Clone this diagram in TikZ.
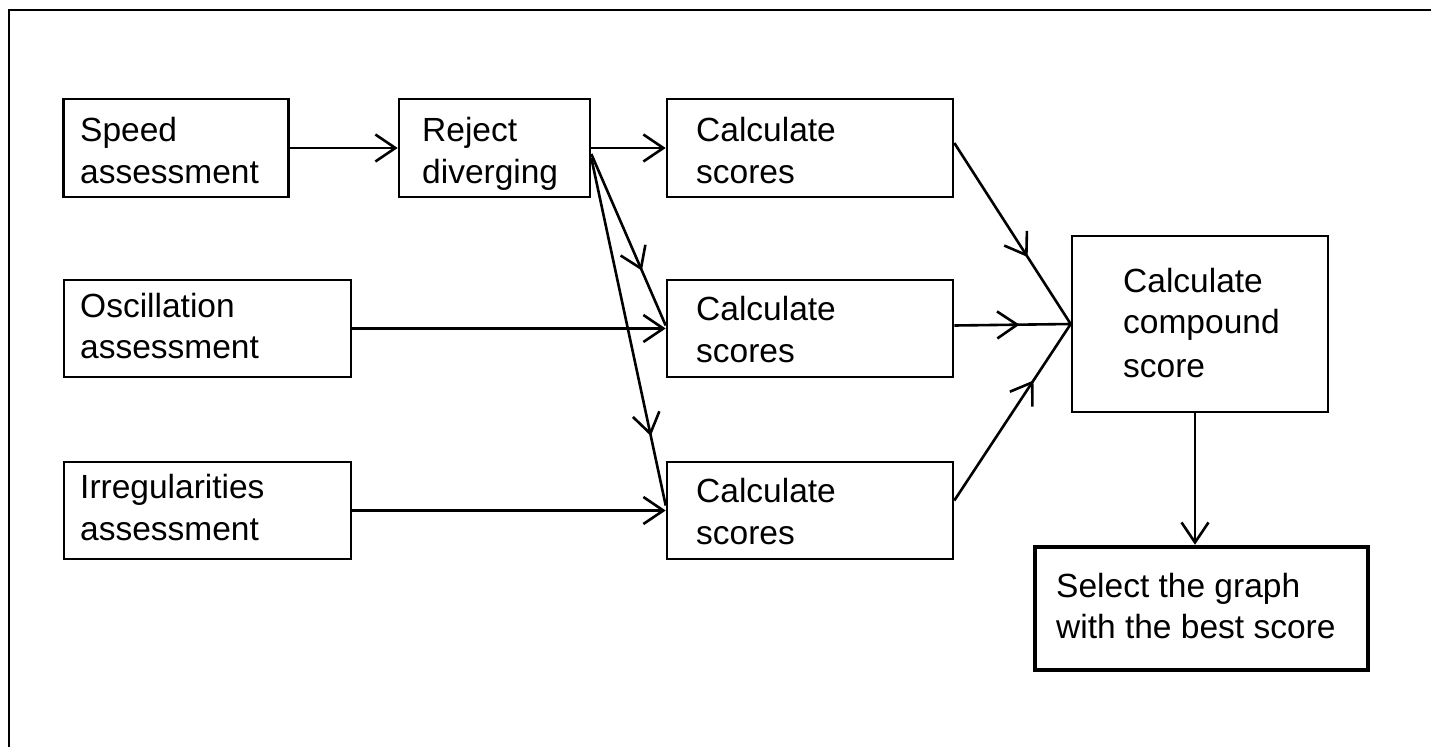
\documentclass[tikz,border=0pt]{standalone}
\usepackage{fontspec}
\setmainfont{Liberation Sans}
\usetikzlibrary{arrows.meta,decorations.markings}
\begin{document}
\begin{tikzpicture}[x=1pt,y=-1pt,
  box/.style={draw,line width=2.6pt,minimum width=#1,inner sep=0pt},
  lbl/.style={anchor=base west,inner sep=0pt,font=\fontsize{33.5}{42}\selectfont},
  conn/.style={line width=2.6pt,-{Straight Barb[length=20pt,width=27pt]}},
  midconn/.style={line width=2.6pt,postaction={decorate},
    decoration={markings,mark=at position #1 with {\arrow{Straight Barb[length=20pt,width=27pt]}}}}
]
\useasboundingbox (0,0) rectangle (1431,747);
\coordinate (frameTL) at (9,10);
\coordinate (frameTR) at (1431,10);
\coordinate (frameBL) at (9,747);
\draw[line width=2pt] (frameTR) -- (frameTL) -- (frameBL);
% boxes
\node[box=225pt,minimum height=98pt] (speed) at (176,148) {};
\node[box=191pt,minimum height=98pt] (reject) at (494.5,148) {};
\node[box=286pt,minimum height=98pt] (calc1) at (810,148) {};
\node[box=287pt,minimum height=97pt] (osc) at (207.5,328.5) {};
\node[box=286pt,minimum height=97pt] (calc2) at (810,328.5) {};
\node[box=287pt,minimum height=97pt] (irr) at (207.5,510.5) {};
\node[box=286pt,minimum height=97pt] (calc3) at (810,510.5) {};
\node[box=256pt,minimum height=176pt] (compound) at (1200,324) {};
\node[box=333pt,minimum height=123pt,line width=4.5pt] (select) at (1201.5,608.5) {};
% texts
\node[lbl] (t1a) at (80,141) {Speed};
\node[lbl] (t1b) at (80,183) {assessment};
\node[lbl] (t2a) at (422,141) {Reject};
\node[lbl] (t2b) at (422,183) {diverging};
\node[lbl] (t3a) at (696,141) {Calculate};
\node[lbl] (t3b) at (696,183) {scores};
\node[lbl] (t4a) at (80,317) {Oscillation};
\node[lbl] (t4b) at (80,358) {assessment};
\node[lbl] (t5a) at (696,320) {Calculate};
\node[lbl] (t5b) at (696,362) {scores};
\node[lbl] (t6a) at (80,498) {Irregularities};
\node[lbl] (t6b) at (80,540) {assessment};
\node[lbl] (t7a) at (696,502) {Calculate};
\node[lbl] (t7b) at (696,544) {scores};
\node[lbl] (t8a) at (1123,292) {Calculate};
\node[lbl] (t8b) at (1123,333) {compound};
\node[lbl] (t8c) at (1123,377) {score};
\node[lbl] (t9a) at (1056,597) {Select the graph};
\node[lbl] (t9b) at (1056,638) {with the best score};
% connectors
\draw[conn] (speed.east) -- (reject.west);
\draw[conn] (reject.east) -- (calc1.west);
\draw[midconn=0.68] ([yshift=-6pt]reject.east) -- ([yshift=3pt]calc2.west);
\draw[midconn=0.8] ([yshift=-10pt]reject.east) -- ([yshift=5pt]calc3.west);
\draw[conn] (osc.east) -- (calc2.west);
\draw[conn] (irr.east) -- (calc3.west);
\draw[midconn=0.63] ([yshift=5pt]calc1.east) -- (compound.west);
\draw[midconn=0.56] ([yshift=3pt]calc2.east) -- (compound.west);
\draw[midconn=0.68] ([yshift=10pt]calc3.east) -- (compound.west);
\draw[conn] ([xshift=-5pt]compound.south) -- ([xshift=-5pt]compound.south |- select.north);
\end{tikzpicture}
\end{document}
